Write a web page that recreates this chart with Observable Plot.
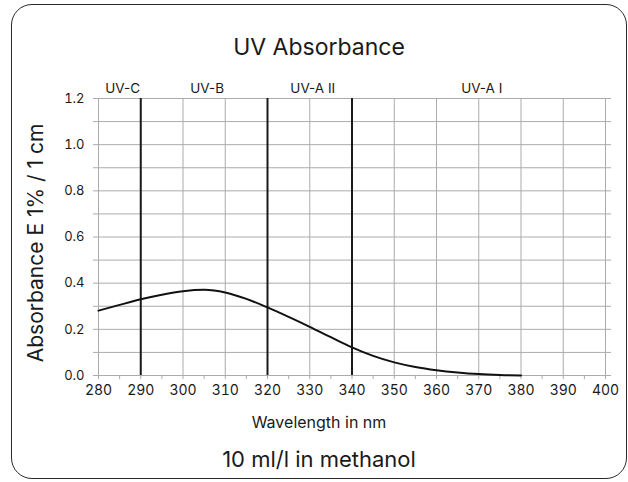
<!DOCTYPE html>
<html>
<head>
<meta charset="utf-8">
<script src="https://cdn.jsdelivr.net/npm/d3@7"></script>
<script src="https://cdn.jsdelivr.net/npm/@observablehq/plot@0.6"></script>
<style>
  html, body { margin: 0; padding: 0; background: #fff; }
  #wrap { position: relative; width: 628px; height: 482px; overflow: hidden; font-family: Inter, Roboto, sans-serif; color: #1a1a1a; }
  #box { position: absolute; left: 11px; top: 4px; width: 616px; height: 475px; box-sizing: border-box; border: 1.5px solid #2a2a2a; border-radius: 21px; }
  #chart { position: absolute; left: 0; top: 0; }
  .t { position: absolute; white-space: nowrap; line-height: 1; transform: translateX(-50%); }
  #title { left: 319px; top: 36px; font-size: 23px; }
  #xlabel { left: 319px; top: 414px; font-size: 16px; }
  #caption { left: 319px; top: 448px; font-size: 22px; }
  #ylabel { position: absolute; left: 35px; top: 243px; font-size: 21px; white-space: nowrap; line-height: 1; transform: translate(-50%, -50%) rotate(-90deg); }
</style>
</head>
<body>
<div id="wrap">
  <div id="box"></div>
  <div id="chart"></div>
  <div class="t" id="title">UV Absorbance</div>
  <div id="ylabel">Absorbance E 1% / 1 cm</div>
  <div class="t" id="xlabel">Wavelength in nm</div>
  <div class="t" id="caption">10 ml/l in methanol</div>
</div>
<script>
// Data
const wavelength = [280, 285, 290, 295, 300, 305, 310, 315, 320, 325, 330, 335, 340, 345, 350, 355, 360, 365, 370, 375, 380];
const absorbance = [0.281, 0.306, 0.330, 0.350, 0.365, 0.371, 0.360, 0.332, 0.295, 0.254, 0.211, 0.166, 0.122, 0.085, 0.057, 0.037, 0.023, 0.013, 0.006, 0.002, 0.0];
const bandEdges = [290, 320, 340];
const bandNames = ["UV-C", "UV-B", "UV-A II", "UV-A I"];
const bandStart = [280, 290, 320, 340];
const bandEnd = [290, 320, 340, 400];
const xTickValues = [280, 290, 300, 310, 320, 330, 340, 350, 360, 370, 380, 390, 400];
const xMinorTicks = [280, 285, 290, 295, 300, 305, 310, 315, 320, 325, 330, 335, 340, 345, 350, 355, 360, 365, 370, 375, 380, 385, 390, 395, 400];
const yTickValues = [0, 0.2, 0.4, 0.6, 0.8, 1.0, 1.2];
const yGridValues = [0, 0.1, 0.2, 0.3, 0.4, 0.5, 0.6, 0.7, 0.8, 0.9, 1.0, 1.1, 1.2];

const curve = wavelength.map((w, i) => ({w, a: absorbance[i]}));
const bands = bandNames.map((n, i) => ({name: n, mid: (bandStart[i] + bandEnd[i]) / 2}));

const grid = "#ababab";
const chart = Plot.plot({
  width: 628,
  height: 482,
  marginLeft: 98,
  marginRight: 23,
  marginTop: 98,
  marginBottom: 107,
  style: {fontFamily: "Inter, Roboto, sans-serif", fontSize: "13px", color: "#1a1a1a", background: "transparent"},
  x: {domain: [280, 400]},
  y: {domain: [0, 1.2]},
  marks: [
    Plot.ruleX(xTickValues, {stroke: grid, strokeWidth: 1}),
    Plot.ruleY(yGridValues, {stroke: grid, strokeWidth: 1, insetLeft: -5, insetRight: -6}),
    Plot.axisX({ticks: xMinorTicks, tickSize: 4, stroke: grid, text: null, label: null}),
    Plot.axisX({ticks: xTickValues, tickSize: 0, tickPadding: 10, tickFormat: d => d, label: null, fontSize: 14}),
    Plot.axisY({ticks: yTickValues, tickSize: 0, tickPadding: 14, tickFormat: d => d.toFixed(1), label: null, fontSize: 13}),
    Plot.ruleX(bandEdges, {stroke: "#1a1a1a", strokeWidth: 2}),
    Plot.line(curve, {x: "w", y: "a", stroke: "#111", strokeWidth: 2, curve: "monotone-x"}),
    Plot.text(bands, {x: "mid", text: "name", frameAnchor: "top", dy: -15, dx: 3, fontSize: 13.5, fill: "#1a1a1a"})
  ]
});
document.getElementById("chart").appendChild(chart);
</script>
</body>
</html>
